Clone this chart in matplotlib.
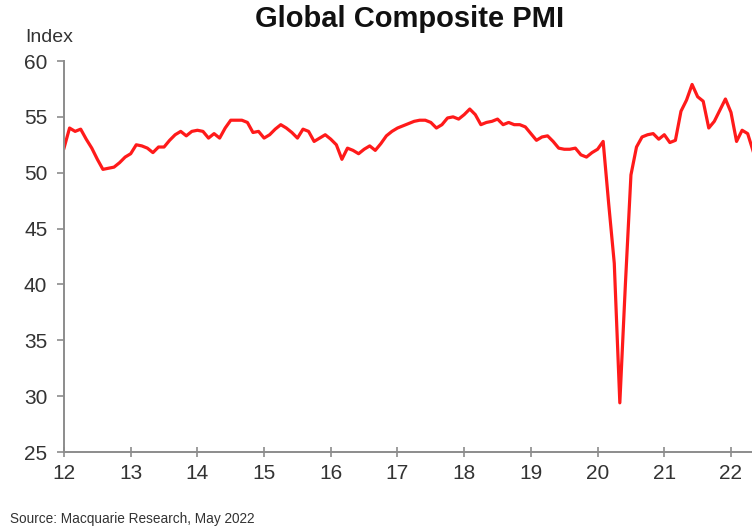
import numpy as np
import matplotlib.pyplot as plt

# Global composite PMI, monthly from Jan 2012
start_year = 12
pmi = [
    52.2, 54.0, 53.7, 53.9, 53.0, 52.2, 51.2, 50.3, 50.4, 50.5, 50.9, 51.4,  # 2012
    51.7, 52.5, 52.4, 52.2, 51.8, 52.3, 52.3, 52.9, 53.4, 53.7, 53.3, 53.7,  # 2013
    53.8, 53.7, 53.1, 53.5, 53.1, 54.0, 54.7, 54.7, 54.7, 54.5, 53.6, 53.7,  # 2014
    53.1, 53.4, 53.9, 54.3, 54.0, 53.6, 53.1, 53.9, 53.7, 52.8, 53.1, 53.4,  # 2015
    53.0, 52.5, 51.2, 52.2, 52.0, 51.7, 52.1, 52.4, 52.0, 52.6, 53.3, 53.7,  # 2016
    54.0, 54.2, 54.4, 54.6, 54.7, 54.7, 54.5, 54.0, 54.3, 54.9, 55.0, 54.8,  # 2017
    55.2, 55.7, 55.2, 54.3, 54.5, 54.6, 54.8, 54.3, 54.5, 54.3, 54.3, 54.1,  # 2018
    53.5, 52.9, 53.2, 53.3, 52.8, 52.2, 52.1, 52.1, 52.2, 51.6, 51.4, 51.8,  # 2019
    52.1, 52.8, 47.2, 41.9, 29.4, 40.0, 49.8, 52.3, 53.2, 53.4, 53.5, 53.0,  # 2020
    53.4, 52.7, 52.9, 55.5, 56.5, 57.9, 56.8, 56.4, 54.0, 54.6, 55.6, 56.6,  # 2021
    55.4, 52.8, 53.8, 53.5, 51.9,                                            # 2022
]
year_ticks = list(range(12, 23))
year_labels = [str(y) for y in year_ticks]
y_ticks = [25, 30, 35, 40, 45, 50, 55, 60]

months = start_year + np.arange(len(pmi)) / 12

plt.rcParams['font.family'] = ['Liberation Sans', 'DejaVu Sans']

fig = plt.figure(figsize=(7.52, 5.30), dpi=100)
ax = fig.add_axes([64 / 752, 78 / 530, 1 - 64 / 752, (452 - 61) / 530])

ax.plot(months, pmi, color='#ff1a1a', linewidth=2.3, solid_joinstyle='round')

ax.set_xlim(12, 22.315)
ax.set_ylim(25, 60)
ax.set_xticks(year_ticks)
ax.set_xticklabels(year_labels)
ax.set_yticks(y_ticks)

for side in ['top', 'right']:
    ax.spines[side].set_visible(False)
for side in ['left', 'bottom']:
    ax.spines[side].set_color('#8c8c8c')
    ax.spines[side].set_linewidth(1.4)

ax.tick_params(axis='y', direction='out', length=5, width=1.2, color='#8c8c8c',
               labelsize=15, labelcolor='#333333', pad=7)
ax.tick_params(axis='x', direction='inout', length=7, width=1.2, color='#8c8c8c',
               labelsize=15, labelcolor='#333333', pad=5)

fig.text(410 / 752, 1 - 19 / 530, 'Global Composite PMI', ha='center', va='center',
         fontsize=21, fontweight='bold', color='#111111')
fig.text(25 / 752, 1 - 37 / 530, 'Index', ha='left', va='center',
         fontsize=14, color='#333333')
fig.text(10 / 752, 1 - 519 / 530, 'Source: Macquarie Research, May 2022', ha='left',
         va='center', fontsize=9.8, color='#333333')

fig.savefig('out.png', dpi=100)
